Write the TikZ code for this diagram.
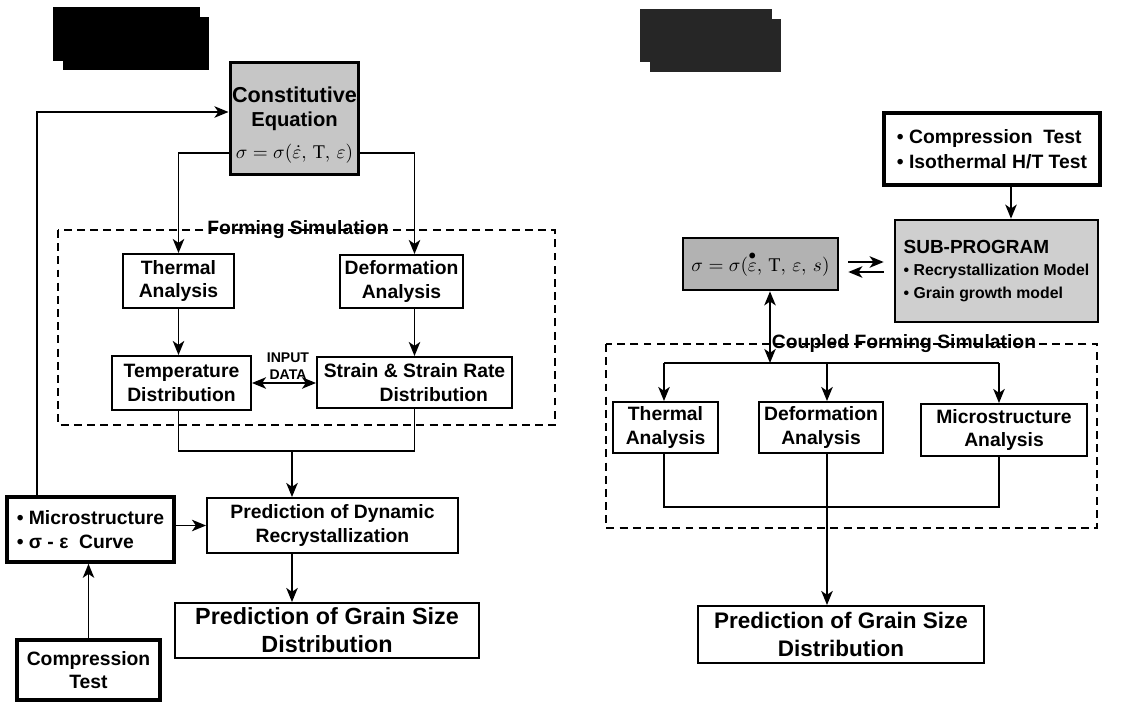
\documentclass[tikz,border=0pt]{standalone}
\usepackage{fontspec}
\setmainfont{Liberation Serif}
\newfontfamily\arial{Liberation Sans}
\usetikzlibrary{arrows.meta,calc}
\begin{document}
\begin{tikzpicture}[x=0.02cm,y=-0.02cm,
  lbl/.style={font=\arial\bfseries\fontsize{11}{13.5}\selectfont, align=center},
  box/.style={draw, line width=1.1pt, inner sep=0pt, lbl},
  tbox/.style={box, line width=2pt},
  ln/.style={line width=1.1pt},
  tip/.tip={Stealth[length=8pt,width=6.5pt,inset=2.2pt]},
  arr/.style={ln, -tip},
  darr/.style={ln, tip-tip},
  dbox/.style={draw, line width=0.9pt, dash pattern=on 4.5pt off 3pt},
  grayA/.style={fill=gray!45},
  grayB/.style={fill=gray!38},
  grayC/.style={fill=gray!60},
  big/.style={font=\arial\bfseries\fontsize{12.8}{16}\selectfont},
]
\useasboundingbox (0,0) rectangle (1137,703);

% ---------- decorative blocks ----------
\fill[black] (53,7) rectangle (200,61);
\fill[black] (63,17) rectangle (209,70);
\fill[black!85] (640,9) rectangle (772,62);
\fill[black!85] (650,19) rectangle (781,72);

% ================= LEFT =================
\draw[dbox] (58,230) rectangle (555,425);
\node[lbl] (formlbl) at (298,230) {Forming Simulation};

\node[box, grayA, line width=1.7pt, minimum width=2.58cm, minimum height=2.26cm] (const) at (294.5,118.5) {};
\node[lbl] (constTxt) at (294.5,125)
  {\fontsize{12.3}{13.5}\selectfont Constitutive\\\fontsize{11.5}{13.5}\selectfont Equation\\[5pt]{\fontsize{11}{13}\selectfont$\sigma=\sigma(\dot{\varepsilon},\,\mathrm{T},\,\varepsilon)$}};

\node[box, minimum width=2.22cm, minimum height=1.08cm] (thermalL) at (178.5,281) {Thermal\\Analysis};
\node[box, minimum width=2.46cm, minimum height=1.06cm] (deformL) at (401.5,281.5) {Deformation\\Analysis};
\node[box, minimum width=2.78cm, minimum height=1.08cm] (tempL) at (181.5,383) {Temperature\\Distribution};
\node[box, minimum width=3.9cm, minimum height=1.02cm] (strainL) at (414.5,382.5) {Strain \& Strain Rate\\\hspace*{2em}Distribution};
\node[lbl, font=\arial\bfseries\fontsize{8}{9.5}\selectfont] (input) at (288,366) {INPUT\\DATA};

\node[box, minimum width=5.02cm, minimum height=1.1cm] (dynL) at (332.5,525.5) {Prediction of Dynamic\\Recrystallization};
\node[box, big, font=\arial\bfseries\fontsize{13.3}{16}\selectfont, minimum width=6.08cm, minimum height=1.1cm] (grainL) at (327,630.5) {Prediction of Grain Size\\Distribution};
\node[tbox, align=left, minimum width=3.34cm, minimum height=1.3cm] (microL) at (90.5,529.5) {• Microstructure\\• σ - ε\ \ Curve};
\node[tbox, minimum width=2.86cm, minimum height=1.2cm] (compL) at (88.5,670) {Compression\\Test};

\coordinate (cy) at (0,153);
\coordinate (fbtop) at (37,112);
\coordinate (mg) at (0,451);
\coordinate (mx) at (292,451);

\draw[arr] (const.west |- cy) -| (thermalL.north);
\draw[arr] (const.east |- cy) -| (strainL.center |- deformL.north);
\draw[arr] (microL.north -| fbtop) -- (fbtop) -- (const.west |- fbtop);
\draw[arr] (thermalL.south) -- (thermalL.south |- tempL.north);
\draw[arr] (strainL.center |- deformL.south) -- (strainL.north);
\draw[darr] (tempL.east) -- (strainL.west |- tempL.east);
\draw[ln] (thermalL.south |- tempL.south) -- (thermalL.south |- mg) -- (strainL.south |- mg) -- (strainL.south);
\draw[arr] (mx) -- (mx |- dynL.north);
\draw[arr] (microL.east |- dynL.west) -- (dynL.west);
\draw[arr] (mx |- dynL.south) -- (mx |- grainL.north);
\draw[arr] (compL.north) -- (compL.north |- microL.south);

% ================= RIGHT =================
\draw[dbox] (606,344) rectangle (1097,528);
\node[lbl] (cplbl) at (904,344) {Coupled Forming Simulation};

\node[tbox, align=left, minimum width=4.32cm, minimum height=1.44cm] (testR) at (992,149)
  {• Compression\ \ Test\\[1pt]• Isothermal H/T Test};
\node[box, grayB, align=left, minimum width=4.06cm, minimum height=2.04cm, line width=1.5pt] (subR) at (996.5,271)
  {{\fontsize{10.8}{14}\selectfont SUB-PROGRAM}\\[-1pt]
   {\fontsize{9}{12}\selectfont • Recrystallization Model}\\
   {\fontsize{9}{12}\selectfont • Grain growth model}};
\node[box, grayC, minimum width=3.1cm, minimum height=1.04cm, line width=1.5pt] (formR) at (760.5,264)
  {\fontsize{11}{13}\selectfont$\sigma=\sigma(\stackrel{\bullet}{\varepsilon},\,\mathrm{T},\,\varepsilon,\,s)$};

\node[box, minimum width=2.1cm, minimum height=1.02cm] (thermalR) at (665.5,427.5) {Thermal\\Analysis};
\node[box, minimum width=2.48cm, minimum height=1.02cm] (deformR) at (821,427.5) {Deformation\\Analysis};
\node[box, minimum width=3.32cm, minimum height=1.04cm] (microR) at (1004,430) {Microstructure\\Analysis};
\node[box, big, minimum width=5.72cm, minimum height=1.14cm] (grainR) at (841,634.5) {Prediction of Grain Size\\Distribution};

\coordinate (ta) at (1011,0);
\coordinate (a1) at (0,262);
\coordinate (a2) at (0,272);
\coordinate (bar) at (770,363);
\coordinate (bL) at (664,363);
\coordinate (bM) at (827,363);
\coordinate (bR) at (999,363);
\coordinate (lo) at (0,507);

\draw[arr] (testR.south -| ta) -- (subR.north -| ta);
\draw[arr, shorten <=0.18cm, shorten >=0.2cm] (formR.east |- a1) -- (subR.west |- a1);
\draw[arr, shorten <=0.2cm, shorten >=0.18cm] (subR.west |- a2) -- (formR.east |- a2);
\draw[darr] (bar |- formR.south) -- (bar);
\draw[ln] (bL) -- (bR);
\draw[arr] (bL) -- (bL |- thermalR.north);
\draw[arr] (bM) -- (bM |- deformR.north);
\draw[arr] (bR) -- (bR |- microR.north);
\draw[ln] (bL |- thermalR.south) -- (bL |- lo) -- (bR |- lo) -- (bR |- microR.south);
\draw[ln] (bM |- deformR.south) -- (bM |- lo);
\draw[arr] (bM |- lo) -- (bM |- grainR.north);
\end{tikzpicture}
\end{document}
